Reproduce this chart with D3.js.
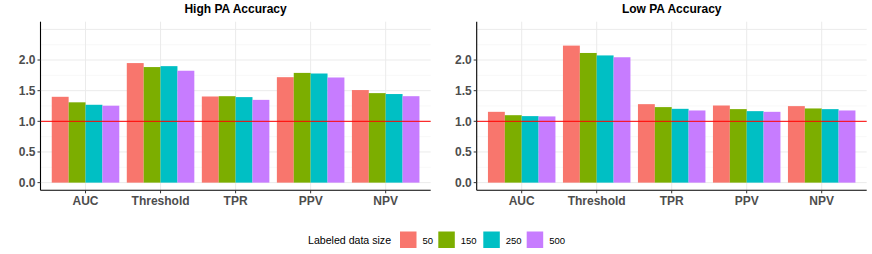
<!DOCTYPE html>
<html><head><meta charset="utf-8">
<script src="https://cdn.jsdelivr.net/npm/d3@7"></script>
<style>body{margin:0;background:#fff}svg{display:block;font-family:"Liberation Sans",Arial,sans-serif}</style>
</head><body><svg id="c" width="872" height="254"></svg>
<script>
const categories = ["AUC","Threshold","TPR","PPV","NPV"];
const sizes = ["50","150","250","500"];
const colors = ["#F8766D","#7CAE00","#00BFC4","#C77CFF"];
const panelTitles = ["High PA Accuracy","Low PA Accuracy"];
// values[metric][size]
const highValues = [
  [1.40,1.31,1.27,1.255],
  [1.95,1.885,1.90,1.825],
  [1.405,1.41,1.395,1.35],
  [1.72,1.79,1.78,1.715],
  [1.51,1.46,1.445,1.41]
];
const lowValues = [
  [1.155,1.10,1.085,1.08],
  [2.235,2.115,2.075,2.045],
  [1.28,1.232,1.204,1.177],
  [1.258,1.199,1.166,1.155],
  [1.248,1.21,1.199,1.177]
];
const yTicks = [0,0.5,1.0,1.5,2.0];
const yGrid = [0,0.25,0.5,0.75,1,1.25,1.5,1.75,2,2.25,2.5];
const refLine = 1;
const legendTitle = "Labeled data size";

(function(){
const svg = d3.select("#c");
const panels = [
  {x0:40.5, x1:430.7, vals:highValues, title:panelTitles[0]},
  {x0:476.7, x1:866.7, vals:lowValues, title:panelTitles[1]}
];
const pTop = 21.7, pBottom = 190.3;
const y = d3.scaleLinear().domain([-0.125,2.625]).range([pBottom, pTop]);

panels.forEach(p => {
  const g = svg.append("g");
  const unit = (p.x1-p.x0)/(categories.length-1+1.2);
  const x = d3.scalePoint().domain(categories).range([p.x0+unit*0.6, p.x1-unit*0.6]);
  const xs = d3.scaleBand().domain(sizes).range([-unit*0.45, unit*0.45]).padding(0);
  g.selectAll(".gy").data(yGrid).join("line")
    .attr("x1",p.x0).attr("x2",p.x1)
    .attr("y1",d=>y(d)).attr("y2",d=>y(d))
    .attr("stroke", d=> (d*2)%1===0 ? "#ebebeb" : "#f4f4f4").attr("stroke-width", d=> (d*2)%1===0 ? 1 : 0.6);
  g.selectAll(".gx").data(categories).join("line")
    .attr("x1",d=>x(d)).attr("x2",d=>x(d))
    .attr("y1",pTop).attr("y2",pBottom)
    .attr("stroke","#ebebeb").attr("stroke-width",1);
  p.vals.forEach((row,i) => {
    g.selectAll(null).data(row).join("rect")
      .attr("x",(d,j)=>x(categories[i])+xs(sizes[j]))
      .attr("width",xs.bandwidth())
      .attr("y",d=>y(d)).attr("height",d=>y(0)-y(d))
      .attr("fill",(d,j)=>colors[j]);
  });
  g.append("line").attr("x1",p.x0).attr("x2",p.x1)
    .attr("y1",y(refLine)).attr("y2",y(refLine))
    .attr("stroke","#ff0000").attr("stroke-width",1);
  g.append("line").attr("x1",p.x0).attr("x2",p.x0).attr("y1",pTop).attr("y2",pBottom).attr("stroke","#000").attr("stroke-width",1.1);
  g.append("line").attr("x1",p.x0).attr("x2",p.x1).attr("y1",pBottom).attr("y2",pBottom).attr("stroke","#000").attr("stroke-width",1.1);
  g.selectAll(".ty").data(yTicks).join("line")
    .attr("x1",p.x0-3).attr("x2",p.x0).attr("y1",d=>y(d)).attr("y2",d=>y(d))
    .attr("stroke","#333").attr("stroke-width",1);
  g.selectAll(".ly").data(yTicks).join("text")
    .attr("x",p.x0-5).attr("y",d=>y(d)).attr("dy","0.36em")
    .attr("text-anchor","end").attr("font-size","12px").attr("font-weight","bold").attr("fill","#4d4d4d")
    .text(d=>d3.format(".1f")(d));
  g.selectAll(".tx").data(categories).join("line")
    .attr("x1",d=>x(d)).attr("x2",d=>x(d)).attr("y1",pBottom).attr("y2",pBottom+3)
    .attr("stroke","#333").attr("stroke-width",1);
  g.selectAll(".lx").data(categories).join("text")
    .attr("x",d=>x(d)).attr("y",204.5)
    .attr("text-anchor","middle").attr("font-size","12px").attr("font-weight","bold").attr("fill","#4d4d4d")
    .text(d=>d);
  g.append("text").attr("x",(p.x0+p.x1)/2).attr("y",13)
    .attr("text-anchor","middle").attr("font-size","12px").attr("font-weight","bold").attr("fill","#000")
    .text(p.title);
});

const lg = svg.append("g");
lg.append("text").attr("x",308).attr("y",243.5).attr("font-size","10.6px").attr("fill","#000").text(legendTitle);
const keyX = [400, 438.3, 483.3, 526.7];
sizes.forEach((s,i)=>{
  lg.append("rect").attr("x",keyX[i]).attr("y",231.5).attr("width",16.5).attr("height",16.5).attr("fill",colors[i]);
  lg.append("text").attr("x",keyX[i]+22.5).attr("y",243.5).attr("font-size","9.5px").attr("fill","#000").text(s);
});
})();
</script></body></html>
